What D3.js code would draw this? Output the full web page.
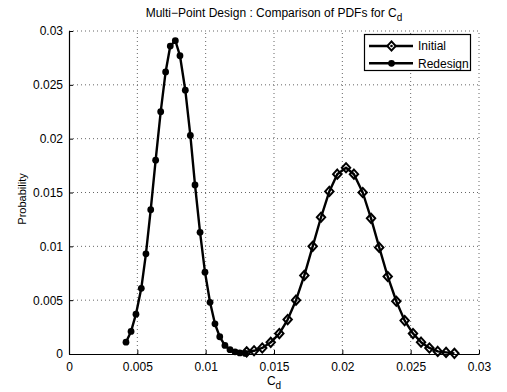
<!DOCTYPE html>
<html>
<head>
<meta charset="utf-8">
<script src="https://cdn.jsdelivr.net/npm/d3@7"></script>
<style>
  body { margin: 0; background: #fff; }
  text { font-family: "Liberation Sans", Arial, sans-serif; fill: #000; }
  .grid line { stroke: #666; stroke-width: 1; stroke-dasharray: 1,3; }
</style>
</head>
<body>
<svg id="chart" width="507" height="392"></svg>
<script>
// Redesign PDF (filled circles)
var redesignX = [0.00417, 0.00454, 0.0049, 0.00529, 0.00563, 0.00598, 0.00634, 0.00671, 0.00707, 0.00741,
                 0.00778, 0.00812, 0.00851, 0.00888, 0.00922, 0.00959, 0.00995, 0.01032, 0.01068, 0.01103,
                 0.01141, 0.01178, 0.01215, 0.0125, 0.0129];
var redesignY = [0.0011, 0.0021, 0.0037, 0.0061, 0.0093, 0.0134, 0.018, 0.0225, 0.0262, 0.0286,
                 0.0291, 0.0277, 0.0245, 0.0203, 0.0157, 0.0113, 0.0076, 0.0048, 0.0028, 0.0016,
                 0.0008, 0.0004, 0.0002, 0.0001, 0.00005];
// Initial PDF (diamonds)
var initialX = [0.0130, 0.01354, 0.01414, 0.01476, 0.01539, 0.016, 0.01661, 0.01722, 0.01783, 0.01844,
                0.01905, 0.01963, 0.02027, 0.02085, 0.02149, 0.0221, 0.0227, 0.02332, 0.02395, 0.02456,
                0.02517, 0.02576, 0.02637, 0.02698, 0.02759, 0.0282];
var initialY = [0.0002, 0.0003, 0.00056, 0.00108, 0.0019, 0.0032, 0.005, 0.0073, 0.0100, 0.0127,
                0.0151, 0.0167, 0.0173, 0.0167, 0.0150, 0.0126, 0.0099, 0.0072, 0.0049, 0.0031,
                0.0019, 0.0011, 0.00056, 0.00024, 0.00015, 0.00006];
var xTicks = [0, 0.005, 0.01, 0.015, 0.02, 0.025, 0.03];
var yTicks = [0, 0.005, 0.01, 0.015, 0.02, 0.025, 0.03];
var seriesNames = ["Initial", "Redesign"];

var svg = d3.select("#chart"),
    plotLeft = 69, plotRight = 479, plotTop = 31, plotBottom = 354;

var x = d3.scaleLinear().domain([0, 0.03]).range([plotLeft, plotRight]);
var y = d3.scaleLinear().domain([0, 0.03]).range([plotBottom, plotTop]);

// dotted grid
var grid = svg.append("g").attr("class", "grid");
grid.selectAll(".vx").data(xTicks.slice(1)).enter().append("line")
    .attr("x1", function (d) { return x(d); }).attr("x2", function (d) { return x(d); })
    .attr("y1", plotBottom).attr("y2", plotTop);
grid.selectAll(".hy").data(yTicks.slice(1)).enter().append("line")
    .attr("y1", function (d) { return y(d); }).attr("y2", function (d) { return y(d); })
    .attr("x1", plotLeft).attr("x2", plotRight);

// axes (box off, ticks inward)
var fmt = function (v) { return v === 0 ? "0" : String(+v.toFixed(3)); };
var xAxis = svg.append("g").attr("transform", "translate(0," + plotBottom + ")")
    .call(d3.axisBottom(x).tickValues(xTicks).tickSizeInner(-4).tickSizeOuter(0).tickPadding(8).tickFormat(fmt));
var yAxis = svg.append("g").attr("transform", "translate(" + plotLeft + ",0)")
    .call(d3.axisLeft(y).tickValues(yTicks).tickSizeInner(-4).tickSizeOuter(0).tickPadding(6).tickFormat(fmt));
[xAxis, yAxis].forEach(function (a) {
    a.select(".domain").attr("stroke", "#000").attr("stroke-width", 1.2);
    a.selectAll(".tick line").attr("stroke", "#000");
    a.selectAll(".tick text").attr("font-size", 12).attr("font-family", "Liberation Sans, Arial, sans-serif").attr("fill", "#000");
});

// lines
var line = d3.line().x(function (d) { return x(d[0]); }).y(function (d) { return y(d[1]); });
var initial = initialX.map(function (v, i) { return [v, initialY[i]]; });
var redesign = redesignX.map(function (v, i) { return [v, redesignY[i]]; });

svg.append("path").datum(redesign).attr("d", line)
    .attr("fill", "none").attr("stroke", "#000").attr("stroke-width", 2.4).attr("stroke-linejoin", "round");
svg.append("path").datum(initial).attr("d", line)
    .attr("fill", "none").attr("stroke", "#000").attr("stroke-width", 2.4).attr("stroke-linejoin", "round");

var diamond = "M0,-4.6L4.2,0L0,4.6L-4.2,0Z";
svg.selectAll(".rd").data(redesign).enter().append("circle")
    .attr("cx", function (d) { return x(d[0]); }).attr("cy", function (d) { return y(d[1]); })
    .attr("r", 3.4).attr("fill", "#000");
svg.selectAll(".in").data(initial).enter().append("path")
    .attr("d", diamond)
    .attr("transform", function (d) { return "translate(" + x(d[0]) + "," + y(d[1]) + ")"; })
    .attr("fill", "none").attr("stroke", "#000").attr("stroke-width", 2);

// title and labels
var title = svg.append("text").attr("x", 274).attr("y", 17).attr("text-anchor", "middle").attr("font-size", 12);
title.append("tspan").text("Multi\u2212Point Design : Comparison of PDFs for C");
title.append("tspan").attr("dy", 4).attr("font-size", 10).text("d");

var xl = svg.append("text").attr("x", 274).attr("y", 385).attr("text-anchor", "middle").attr("font-size", 12);
xl.append("tspan").text("C");
xl.append("tspan").attr("dy", 4).attr("font-size", 10).text("d");

svg.append("text").attr("transform", "translate(26,199) rotate(-90)")
    .attr("text-anchor", "middle").attr("font-size", 11).text("Probability");

// legend
var lg = svg.append("g");
lg.append("rect").attr("x", 364.5).attr("y", 34.5).attr("width", 106).attr("height", 36)
    .attr("fill", "#fff").attr("stroke", "#000").attr("stroke-width", 1.2);
seriesNames.forEach(function (name, i) {
    var yy = 46 + i * 17.3;
    lg.append("line").attr("x1", 369).attr("x2", 413).attr("y1", yy).attr("y2", yy)
        .attr("stroke", "#000").attr("stroke-width", 2.4);
    if (i === 0) {
        lg.append("path").attr("d", diamond).attr("transform", "translate(391.5," + yy + ")")
            .attr("fill", "#fff").attr("stroke", "#000").attr("stroke-width", 2);
        lg.append("circle").attr("cx", 391.5).attr("cy", yy).attr("r", 1.3).attr("fill", "#000");
    } else {
        lg.append("circle").attr("cx", 391.5).attr("cy", yy).attr("r", 3.4).attr("fill", "#000");
    }
    lg.append("text").attr("x", 418).attr("y", yy + 4.3).attr("font-size", 12).text(name);
});
</script>
</body>
</html>
